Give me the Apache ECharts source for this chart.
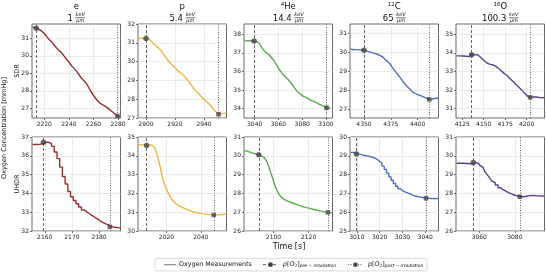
<!DOCTYPE html>
<html>
<head>
<meta charset="utf-8">
<title>Oxygen depletion, SDR vs UHDR</title>
<script src="https://cdn.jsdelivr.net/npm/echarts@6/dist/echarts.min.js"></script>
<style>
  html, body { margin: 0; padding: 0; background: #fff; }
  #chart { width: 546px; height: 272px; }
</style>
</head>
<body>
<div id="chart"></div>
<script>
// columns: particle species and LET
const particleNames = ['e', 'p', 'He', 'C', 'O']
const particleMass = ['', '', '4', '12', '16']
const letValues = ['1', '5.4', '14.4', '65', '100.3']
const rowNames = ['SDR', 'UHDR']

// measurements [time s, pO2 mmHg], top row SDR
const sdrE = [[2210.5, 31.64], [2213.5, 31.58], [2216, 31.5], [2218, 31.4], [2220, 31.28], [2222, 31.1], [2224, 30.92], [2226, 30.8], [2228, 30.62], [2230, 30.45], [2232, 30.3], [2234, 30.18], [2236, 30.0], [2238, 29.82], [2240, 29.65], [2242, 29.45], [2244, 29.3], [2246, 29.14], [2248, 28.95], [2250, 28.75], [2252, 28.6], [2254, 28.45], [2256, 28.22], [2258, 27.95], [2260, 27.75], [2262, 27.55], [2264, 27.38], [2266, 27.27], [2268, 27.18], [2270, 27.1], [2272, 27.0], [2274, 26.88], [2276, 26.76], [2278, 26.65], [2279.5, 26.57], [2281.5, 26.5]]
const sdrP = [[2894.5, 31.25], [2897, 31.25], [2900, 31.23], [2902, 31.2], [2904, 31.05], [2906, 30.9], [2908, 30.78], [2910, 30.62], [2912, 30.4], [2914, 30.18], [2916, 29.98], [2918, 29.82], [2920, 29.68], [2922, 29.52], [2924, 29.38], [2926, 29.27], [2928, 29.08], [2930, 28.88], [2932, 28.65], [2934, 28.48], [2936, 28.32], [2938, 28.15], [2940, 28.0], [2942, 27.85], [2944, 27.7], [2946, 27.52], [2948, 27.35], [2950, 27.2], [2952, 27.22], [2955, 27.25]]
const sdrHe = [[3031.5, 37.66], [3034, 37.65], [3036, 37.65], [3038, 37.64], [3040, 37.63], [3042, 37.6], [3044, 37.5], [3046, 37.28], [3048, 37.12], [3050, 36.98], [3052, 36.9], [3054, 36.75], [3056, 36.6], [3058, 36.4], [3060, 36.15], [3062, 36.0], [3064, 35.82], [3066, 35.7], [3068, 35.58], [3070, 35.42], [3072, 35.25], [3074, 35.08], [3076, 34.92], [3078, 34.8], [3080, 34.7], [3082, 34.64], [3084, 34.58], [3086, 34.5], [3088, 34.42], [3090, 34.38], [3092, 34.32], [3094, 34.25], [3096, 34.2], [3098, 34.12], [3100.5, 34.05], [3104, 34.02]]
const sdrC = [[4337.5, 30.17], [4340, 30.16], [4343, 30.15], [4346, 30.14], [4350, 30.12], [4353, 30.07], [4356, 30.02], [4359, 29.97], [4362, 29.92], [4365, 29.85], [4368, 29.74], [4370, 29.62], [4372, 29.52], [4374, 29.42], [4376, 29.25], [4378, 29.1], [4380, 28.95], [4382, 28.8], [4384, 28.66], [4386, 28.5], [4388, 28.35], [4390, 28.22], [4392, 28.12], [4394, 28.0], [4396, 27.9], [4398, 27.84], [4400, 27.78], [4402, 27.74], [4404, 27.7], [4406, 27.65], [4408, 27.6], [4410.8, 27.53], [4413, 27.54], [4416, 27.58], [4419, 27.6]]
const sdrO = [[4118.5, 33.84], [4122, 33.84], [4126, 33.83], [4130, 33.82], [4133, 33.8], [4135.9, 33.9], [4139, 33.9], [4143.5, 33.89], [4146, 33.78], [4149.3, 33.63], [4152, 33.52], [4155, 33.42], [4158, 33.38], [4161, 33.35], [4164, 33.27], [4167, 33.17], [4170, 33.05], [4172.5, 32.95], [4175.5, 32.84], [4178.3, 32.73], [4181, 32.6], [4184, 32.47], [4187, 32.33], [4190, 32.2], [4193, 32.06], [4195.7, 31.93], [4198.5, 31.8], [4201.5, 31.66], [4204.2, 31.61], [4207, 31.63], [4211, 31.63], [4215, 31.6], [4220.5, 31.58]]

// bottom row UHDR
const uhdrE = [[2155.5, 36.6], [2156.5, 36.6], [2157.5, 36.62], [2158.5, 36.65], [2159.5, 36.72], [2160.5, 36.72], [2161.5, 36.65], [2162.5, 36.5], [2163.5, 36.2], [2164.5, 35.85], [2165.5, 35.4], [2166.5, 34.9], [2167.5, 34.5], [2168.5, 34.1], [2169.5, 33.82], [2170.5, 33.62], [2171.5, 33.45], [2172.5, 33.28], [2173.5, 33.12], [2174.5, 33.02], [2175.5, 32.92], [2176.5, 32.82], [2177.5, 32.72], [2178.5, 32.63], [2179.5, 32.53], [2180.5, 32.45], [2181.5, 32.38], [2182.5, 32.32], [2183.5, 32.26], [2184, 32.22], [2185, 32.2], [2186, 32.18], [2187, 32.15], [2188, 32.12]]
const uhdrP = [[2003.5, 34.6], [2005, 34.59], [2007, 34.57], [2008.4, 34.55], [2010, 34.57], [2011.5, 34.58], [2012.5, 34.5], [2013.3, 34.4], [2014.3, 34.15], [2015.3, 33.8], [2016.3, 33.43], [2017.2, 33.02], [2018.2, 32.63], [2019.2, 32.38], [2020.2, 32.19], [2021.2, 32.0], [2022.1, 31.83], [2023.5, 31.65], [2025, 31.48], [2027, 31.36], [2028.9, 31.27], [2031, 31.18], [2033.8, 31.08], [2036.5, 31.0], [2039.6, 30.94], [2042.5, 30.9], [2045, 30.87], [2047.6, 30.85], [2050, 30.86], [2052.5, 30.88], [2055, 30.89]]
const uhdrHe = [[2083.5, 30.28], [2085, 30.25], [2087, 30.18], [2089, 30.12], [2091.6, 30.05], [2093, 30.0], [2094.5, 29.92], [2095.5, 29.8], [2096.4, 29.65], [2097.4, 29.4], [2098.4, 29.11], [2099.4, 28.84], [2100.3, 28.57], [2101.2, 28.33], [2102.2, 28.12], [2103.2, 27.95], [2104.2, 27.82], [2105.5, 27.72], [2107.1, 27.63], [2109, 27.55], [2110.9, 27.49], [2113, 27.42], [2114.8, 27.35], [2117.5, 27.27], [2120.6, 27.2], [2123.5, 27.13], [2126.5, 27.07], [2129, 27.02], [2131, 26.99], [2133.5, 26.98]]
const uhdrC = [[3007.2, 29.18], [3008.5, 29.16], [3009.8, 29.1], [3011, 29.06], [3012, 29.03], [3013, 29.0], [3014, 28.98], [3015, 28.95], [3016, 28.92], [3017, 28.87], [3018, 28.8], [3019, 28.7], [3020, 28.6], [3021, 28.45], [3022, 28.28], [3023, 28.08], [3024, 27.88], [3025, 27.7], [3026, 27.53], [3027, 27.38], [3028, 27.25], [3029, 27.15], [3030, 27.08], [3031, 27.04], [3032, 26.99], [3033, 26.93], [3034, 26.88], [3035, 26.85], [3036, 26.82], [3037, 26.8], [3038, 26.78], [3039, 26.76], [3040.3, 26.74], [3041.5, 26.73], [3043, 26.72], [3044.5, 26.73], [3045.8, 26.74]]
const uhdrO = [[3047.2, 29.6], [3049, 29.6], [3051, 29.59], [3053, 29.58], [3054.8, 29.6], [3056.6, 29.65], [3058, 29.6], [3059.4, 29.56], [3060.5, 29.48], [3061.5, 29.38], [3062.2, 29.29], [3063, 29.18], [3064, 29.05], [3065, 28.93], [3066, 28.8], [3067, 28.67], [3067.8, 28.57], [3069, 28.45], [3070.6, 28.3], [3072, 28.2], [3073.4, 28.12], [3075, 28.05], [3076.2, 28.0], [3077.5, 27.94], [3079, 27.89], [3080.5, 27.85], [3082.8, 27.82], [3084.5, 27.85], [3086.5, 27.88], [3088.4, 27.89], [3090.5, 27.87], [3093, 27.86], [3096.5, 27.85]]

// panel order: row by row, e p He C O
const panelData = [sdrE, sdrP, sdrHe, sdrC, sdrO, uhdrE, uhdrP, uhdrHe, uhdrC, uhdrO]
const preMarks = [[2213.5, 31.58], [2900, 31.23], [3039.5, 37.63], [4350, 30.12], [4135.9, 33.9], [2159.5, 36.72], [2008.4, 34.55], [2091.6, 30.05], [3009.8, 29.1], [3056.6, 29.65]]
const postMarks = [[2279.5, 26.57], [2950, 27.2], [3100.5, 34.05], [4410.8, 27.53], [4204.2, 31.61], [2184, 32.22], [2047.6, 30.85], [2131, 26.99], [3040.3, 26.74], [3082.8, 27.82]]

// axis limits and ticks
const xRanges = [[2210, 2282], [2894.5, 2955.5], [3031, 3105.5], [4337, 4419.5], [4117.7, 4220.9], [2155.3, 2187.9], [2003.4, 2055], [2083.2, 2133.6], [3007, 3045.8], [3046.9, 3096.7]]
const yRanges = [[26.45, 31.82], [27, 32], [33.5, 38.55], [26.55, 31.5], [30.5, 35.55], [32, 37], [30, 35], [26, 31], [25, 30], [26, 31]]
const xTicks = [[2220, 2240, 2260, 2280], [2900, 2920, 2940], [3040, 3060, 3080, 3100], [4350, 4375, 4400], [4125, 4150, 4175, 4200], [2160, 2170, 2180], [2020, 2040], [2100, 2120], [3010, 3020, 3030, 3040], [3060, 3080]]
const yTicks = [[27, 28, 29, 30, 31], [27, 28, 29, 30, 31, 32], [34, 35, 36, 37, 38], [27, 28, 29, 30, 31], [31, 32, 33, 34, 35], [32, 33, 34, 35, 36, 37], [30, 31, 32, 33, 34, 35], [26, 27, 28, 29, 30, 31], [25, 26, 27, 28, 29, 30], [26, 27, 28, 29, 30, 31]]

// styles / layout
const lineColors = ['#93302f', '#f2b441', '#5aab4e', '#4b6fbf', '#5c3f8e']
const stepped = [false, false, false, false, false, true, false, false, true, true]
const FONT = '"DejaVu Sans", sans-serif'
const colLeft = [32, 138, 244, 350, 456]
const rowTop = [24, 137]
const panelW = 88.5
const panelH = 94
const markColor = '#444'
const tickFont = 6

const measureCtx = document.createElement('canvas').getContext('2d')

/** text width in px for DejaVu Sans */
function textWidth (text, size, italic) {
  measureCtx.font = (italic ? 'italic ' : '') + size + 'px "DejaVu Sans"'
  return measureCtx.measureText(text).width
}

/** lay out a run of text pieces (sub/superscripts via dy) */
function textRuns (runs, x, y, align) {
  const widths = runs.map(r => textWidth(r.t, r.size, r.italic))
  const total = widths.reduce((a, b) => a + b, 0)
  let cur = align === 'center' ? x - total / 2 : x
  return runs.map((r, k) => {
    const el = {
      type: 'text',
      x: cur,
      y: y + (r.dy || 0),
      silent: true,
      style: {
        text: r.t,
        fontSize: r.size,
        fontFamily: FONT,
        fontStyle: r.italic ? 'italic' : 'normal',
        fill: '#111',
        align: 'left',
        verticalAlign: 'middle'
      }
    }
    cur += widths[k]
    return el
  })
}

const grids = []
const xAxes = []
const yAxes = []
const series = []

panelData.forEach((data, i) => {
  const row = Math.floor(i / 5)
  const col = i % 5
  grids.push({
    left: colLeft[col],
    top: rowTop[row],
    width: panelW,
    height: panelH,
    show: true,
    borderColor: '#444',
    borderWidth: 0.8
  })
  xAxes.push({
    gridIndex: i,
    type: 'value',
    min: xRanges[i][0],
    max: xRanges[i][1],
    axisLine: { show: false },
    axisTick: { customValues: xTicks[i], length: 2, lineStyle: { color: '#333', width: 0.7 } },
    axisLabel: { customValues: xTicks[i], formatter: v => String(v), fontSize: tickFont, fontFamily: FONT, color: '#222', margin: 3 },
    splitLine: { show: true, lineStyle: { color: '#e2e2e2', width: 0.7 } }
  })
  yAxes.push({
    gridIndex: i,
    type: 'value',
    min: yRanges[i][0],
    max: yRanges[i][1],
    axisLine: { show: false },
    axisTick: { customValues: yTicks[i], length: 2, lineStyle: { color: '#333', width: 0.7 } },
    axisLabel: { customValues: yTicks[i], formatter: v => String(v), fontSize: tickFont, fontFamily: FONT, color: '#222', margin: 3 },
    splitLine: { show: true, lineStyle: { color: '#e2e2e2', width: 0.7 } }
  })

  series.push({
    type: 'line',
    xAxisIndex: i,
    yAxisIndex: i,
    data,
    showSymbol: false,
    step: stepped[i] ? 'end' : false,
    lineStyle: { color: lineColors[col], width: 1.4 },
    z: 3
  })

  // pre / post irradiation markers with their vertical guide lines
  series.push({
    type: 'scatter',
    xAxisIndex: i,
    yAxisIndex: i,
    data: [preMarks[i]],
    symbol: 'circle',
    symbolSize: 5.5,
    itemStyle: { color: markColor },
    z: 4,
    markLine: {
      silent: true,
      symbol: 'none',
      label: { show: false },
      lineStyle: { color: '#555', width: 0.9, type: [3, 2] },
      data: [{ xAxis: preMarks[i][0] }]
    }
  })
  series.push({
    type: 'scatter',
    xAxisIndex: i,
    yAxisIndex: i,
    data: [postMarks[i]],
    symbol: 'rect',
    symbolSize: 4.5,
    itemStyle: { color: markColor },
    z: 4,
    markLine: {
      silent: true,
      symbol: 'none',
      label: { show: false },
      lineStyle: { color: '#555', width: 0.9, type: [1, 1.5] },
      data: [{ xAxis: postMarks[i][0] }]
    }
  })
})

// column titles: species + LET fraction
const graphics = []
particleNames.forEach((name, col) => {
  const cx = colLeft[col] + panelW / 2
  graphics.push(...textRuns([
    { t: particleMass[col], size: 5.5, dy: -2.5 },
    { t: name, size: 8.5 }
  ], cx, 7, 'center'))

  const numW = textWidth(letValues[col], 8.5)
  const gap = textWidth(' ', 8.5)
  const fracW = Math.max(textWidth('keV', 5, true), textWidth('μm', 5, true))
  const x0 = cx - (numW + gap + fracW) / 2
  const fx = x0 + numW + gap + fracW / 2
  graphics.push(...textRuns([{ t: letValues[col], size: 8.5 }], x0, 18.5, 'left'))
  graphics.push({
    type: 'text', x: fx, y: 15, silent: true,
    style: { text: 'keV', fontSize: 5, fontStyle: 'italic', fontFamily: FONT, fill: '#111', align: 'center', verticalAlign: 'middle' }
  })
  graphics.push({
    type: 'line', silent: true,
    shape: { x1: fx - fracW / 2, y1: 17.8, x2: fx + fracW / 2, y2: 17.8 },
    style: { stroke: '#111', lineWidth: 0.6 }
  })
  graphics.push({
    type: 'text', x: fx, y: 20.6, silent: true,
    style: { text: 'μm', fontSize: 5, fontStyle: 'italic', fontFamily: FONT, fill: '#111', align: 'center', verticalAlign: 'middle' }
  })
})

// axis titles
const rotatedLabel = (text, x, y, size) => ({
  type: 'text', x, y, rotation: Math.PI / 2, silent: true,
  style: { text, fontSize: size, fontFamily: FONT, fill: '#111', align: 'center', verticalAlign: 'middle' }
})
graphics.push(rotatedLabel('Oxygen Concentration [mmHg]', 4.5, 128, 6.5))
rowNames.forEach((r, row) => {
  graphics.push(rotatedLabel(r, 17, rowTop[row] + panelH / 2, 6.5))
})
graphics.push({
  type: 'text', x: 289, y: 246.5, silent: true,
  style: { text: 'Time [s]', fontSize: 8, fontFamily: FONT, fill: '#111', align: 'center', verticalAlign: 'middle' }
})

// legend box
const legY = 264.7
graphics.push({
  type: 'rect', silent: true,
  shape: { x: 155, y: 258.3, width: 272, height: 12.6, r: 2 },
  style: { fill: '#fff', stroke: '#cfcfcf', lineWidth: 0.8 }
})
graphics.push({
  type: 'line', silent: true,
  shape: { x1: 164, y1: legY, x2: 176, y2: legY },
  style: { stroke: '#8a8a8a', lineWidth: 1.2 }
})
graphics.push(...textRuns([{ t: 'Oxygen Measurements', size: 6.3 }], 179, legY, 'left'))

graphics.push({
  type: 'line', silent: true,
  shape: { x1: 263, y1: legY, x2: 278, y2: legY },
  style: { stroke: markColor, lineWidth: 0.9, lineDash: [3, 2] }
})
graphics.push({
  type: 'circle', silent: true,
  shape: { cx: 270.5, cy: legY, r: 2.4 },
  style: { fill: markColor }
})
graphics.push(...textRuns([
  { t: 'p', size: 6.3, italic: true },
  { t: '[', size: 6.3 },
  { t: 'O', size: 6.3, italic: true },
  { t: '2', size: 4.4, dy: 1.5 },
  { t: ']', size: 6.3 },
  { t: 'pre − irradiation', size: 4.4, italic: true, dy: 1.5 }
], 283, legY, 'left'))

graphics.push({
  type: 'line', silent: true,
  shape: { x1: 348, y1: legY, x2: 363, y2: legY },
  style: { stroke: markColor, lineWidth: 0.9, lineDash: [1, 1.5] }
})
graphics.push({
  type: 'rect', silent: true,
  shape: { x: 353.5, y: legY - 2, width: 4, height: 4 },
  style: { fill: markColor }
})
graphics.push(...textRuns([
  { t: 'p', size: 6.3, italic: true },
  { t: '[', size: 6.3 },
  { t: 'O', size: 6.3, italic: true },
  { t: '2', size: 4.4, dy: 1.5 },
  { t: ']', size: 6.3 },
  { t: 'post − irradiation', size: 4.4, italic: true, dy: 1.5 }
], 368, legY, 'left'))

const chart = echarts.init(document.getElementById('chart'), null, { renderer: 'canvas' })
chart.setOption({
  animation: false,
  backgroundColor: '#fff',
  grid: grids,
  xAxis: xAxes,
  yAxis: yAxes,
  series,
  graphic: graphics
})
</script>
</body>
</html>
